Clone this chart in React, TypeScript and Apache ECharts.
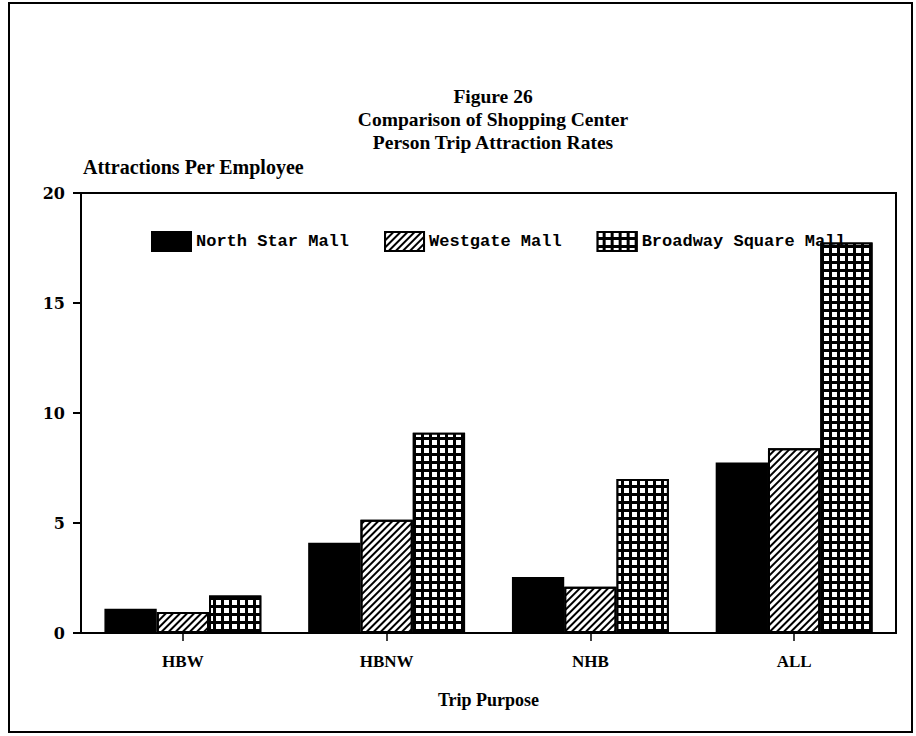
import React, { useEffect, useRef } from "react";
import * as echarts from "echarts";

const categories = ["HBW", "HBNW", "NHB", "ALL"];
const seriesNames = ["North Star Mall", "Westgate Mall", "Broadway Square Mall"];
const northStar = [1.1, 4.1, 2.55, 7.75];
const westgate = [0.95, 5.15, 2.1, 8.4];
const broadway = [1.7, 9.1, 7.0, 17.75];
const yMin = 0;
const yMax = 20;
const yStep = 5;
const titleLines = ["Figure 26", "Comparison of Shopping Center", "Person Trip Attraction Rates"];
const yAxisName = "Attractions Per Employee";
const xAxisName = "Trip Purpose";

const serif = "Liberation Serif";
const mono = "Liberation Mono";

export default function App() {
  const ref = useRef<HTMLDivElement>(null);
  useEffect(() => {
    document.body.style.margin = "0";
    if (!ref.current) return;
    const chart = echarts.init(ref.current, null, { renderer: "svg" });
    const option = {
      animation: false,
      backgroundColor: "#fff",
      title: {
        text: titleLines.join("\n"),
        left: 488,
        top: 80,
        textAlign: "center",
        textStyle: {
          fontFamily: serif,
          fontWeight: "bold",
          fontSize: 19.5,
          lineHeight: 23,
          color: "#000",
        },
      },
      legend: {
        data: seriesNames,
        left: 146,
        top: 226,
        icon: "rect",
        itemWidth: 39,
        itemHeight: 19,
        itemGap: 35,
        textStyle: {
          fontFamily: mono,
          fontWeight: "bold",
          fontSize: 17,
          color: "#000",
        },
      },
      grid: {
        left: 81,
        right: 20,
        top: 193,
        bottom: 103,
        show: true,
        borderColor: "#000",
        borderWidth: 2,
        backgroundColor: "transparent",
      },
      xAxis: {
        type: "category",
        data: categories,
        axisLine: { show: true, lineStyle: { color: "#000", width: 2 } },
        axisTick: { show: true, alignWithLabel: true, length: 8, lineStyle: { color: "#000", width: 1.5 } },
        axisLabel: {
          fontFamily: serif,
          fontWeight: "bold",
          fontSize: 17,
          color: "#000",
          margin: 20,
        },
        name: xAxisName,
        nameLocation: "middle",
        nameGap: 58,
        nameTextStyle: {
          fontFamily: serif,
          fontWeight: "bold",
          fontSize: 18,
          color: "#000",
        },
      },
      yAxis: {
        type: "value",
        min: yMin,
        max: yMax,
        interval: yStep,
        splitLine: { show: false },
        axisLine: { show: true, lineStyle: { color: "#000", width: 2 } },
        axisTick: { show: true, length: 8, lineStyle: { color: "#000", width: 2 } },
        axisLabel: {
          fontFamily: "DejaVu Serif",
          fontWeight: "bold",
          fontSize: 16,
          color: "#000",
          margin: 16,
        },
        name: yAxisName,
        nameLocation: "end",
        nameGap: 16,
        nameTextStyle: {
          fontFamily: serif,
          fontWeight: "bold",
          fontSize: 20,
          color: "#000",
          align: "left",
          padding: [0, 0, 0, 2],
        },
      },
      graphic: [
        {
          type: "rect",
          shape: { x: 9, y: 3, width: 903, height: 729 },
          style: { fill: "none", stroke: "#000", lineWidth: 2 },
          silent: true,
        },
      ],
      series: [
        {
          name: seriesNames[0],
          type: "bar",
          data: northStar,
          barGap: "0%",
          barCategoryGap: "23%",
          itemStyle: { color: "#000", borderColor: "#000", borderWidth: 1.5 },
        },
        {
          name: seriesNames[1],
          type: "bar",
          data: westgate,
          barGap: "0%",
          barCategoryGap: "23%",
          itemStyle: {
            color: "#fff",
            borderColor: "#000",
            borderWidth: 2,
            decal: {
              symbol: "rect",
              symbolSize: 1,
              color: "#000",
              dashArrayX: [1, 0],
              dashArrayY: [2, 3],
              rotation: -Math.PI / 4,
            },
          },
        },
        {
          name: seriesNames[2],
          type: "bar",
          data: broadway,
          barGap: "0%",
          barCategoryGap: "23%",
          itemStyle: {
            color: "#000",
            borderColor: "#000",
            borderWidth: 2,
            decal: {
              symbol: "rect",
              symbolSize: 1,
              color: "#fff",
              dashArrayX: [5, 3],
              dashArrayY: [5, 3],
              rotation: 0,
            },
          },
        },
      ],
    };
    chart.setOption(option as any);
    return () => {
      chart.dispose();
    };
  }, []);
  return (
    <div
      ref={ref}
      style={{ position: "absolute", left: 0, top: 0, width: 916, height: 736 }}
    />
  );
}
